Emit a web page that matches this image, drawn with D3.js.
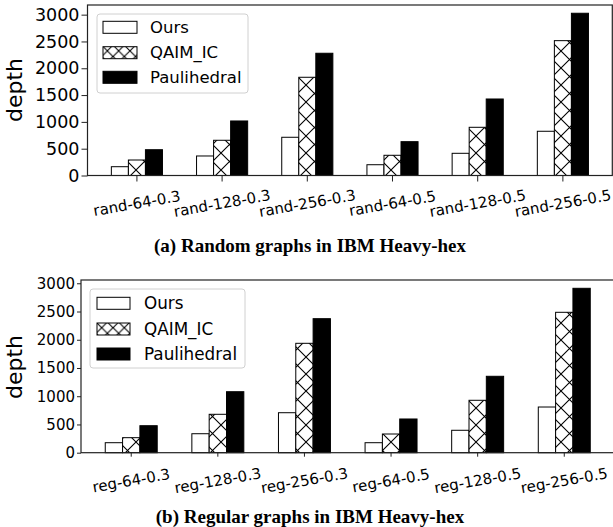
<!DOCTYPE html>
<html>
<head>
<meta charset="utf-8">
<script src="https://cdn.jsdelivr.net/npm/d3@7"></script>
<style>
  body { margin: 0; background: #fff; }
  svg { display: block; }
</style>
</head>
<body>
<div id="chart"></div>
<script>
// data
const seriesNames = ["Ours", "QAIM_IC", "Paulihedral"];
const yTicks = [0, 500, 1000, 1500, 2000, 2500, 3000];

const randCats = ["rand-64-0.3", "rand-128-0.3", "rand-256-0.3", "rand-64-0.5", "rand-128-0.5", "rand-256-0.5"];
const randOurs = [164, 364, 713, 201, 414, 825];
const randQaim = [289, 657, 1832, 377, 899, 2515];
const randPauli = [481, 1017, 2280, 631, 1427, 3026];

const regCats = ["reg-64-0.3", "reg-128-0.3", "reg-256-0.3", "reg-64-0.5", "reg-128-0.5", "reg-256-0.5"];
const regOurs = [177, 336, 708, 177, 397, 809];
const regQaim = [266, 680, 1937, 331, 928, 2486];
const regPauli = [478, 1080, 2373, 597, 1353, 2911];

const W = 613, H = 527;
const svg = d3.select("#chart").append("svg")
  .attr("width", W).attr("height", H);

const defs = svg.append("defs");
function hatch(id, size) {
  let p = defs.append("pattern")
    .attr("id", id)
    .attr("patternUnits", "userSpaceOnUse")
    .attr("width", size).attr("height", size);
  p.append("rect").attr("width", size).attr("height", size).attr("fill", "#fff");
  p.append("path")
    .attr("d", `M0,0L${size},${size}M${size},0L0,${size}`)
    .attr("stroke", "#000").attr("stroke-width", 1.1);
}
hatch("xx", 17);
hatch("xxLegend", 11.3);

const fills = ["#fff", "url(#xx)", "#000"];

function drawPanel(cfg) {
  let g = svg.append("g");

  let x = d3.scaleLinear().domain([-0.58, 5.58]).range([cfg.left, cfg.right]);
  let y = d3.scaleLinear().domain([0, cfg.ymax]).range([cfg.bottom, cfg.top]);

  let series = [cfg.ours, cfg.qaim, cfg.pauli];
  let bw = 0.2;

  series.forEach((vals, k) => {
    g.append("g")
      .selectAll("rect")
      .data(vals)
      .join("rect")
      .attr("x", (d, i) => x(i + (k - 1) * bw - bw / 2))
      .attr("width", x(bw) - x(0))
      .attr("y", d => y(d))
      .attr("height", d => y(0) - y(d))
      .attr("fill", fills[k])
      .attr("stroke", "#000")
      .attr("stroke-width", 1);
  });

  // frame
  g.append("rect")
    .attr("x", cfg.left).attr("y", cfg.top)
    .attr("width", cfg.right - cfg.left).attr("height", cfg.bottom - cfg.top)
    .attr("fill", "none").attr("stroke", "#222").attr("stroke-width", 1.2);

  // y axis
  let yAxis = d3.axisLeft(y).tickValues(yTicks).tickFormat(d3.format("d"))
    .tickSize(cfg.tickLen).tickPadding(2);
  let ya = g.append("g")
    .attr("transform", `translate(${cfg.left},0)`)
    .call(yAxis);
  ya.select(".domain").remove();
  ya.selectAll("text")
    .attr("font-family", "DejaVu Sans")
    .attr("font-size", cfg.yFont)
    .attr("fill", "#000");
  ya.selectAll("line").attr("stroke", "#222");

  // x ticks + rotated labels
  let xa = g.append("g");
  xa.selectAll("line")
    .data(cfg.cats)
    .join("line")
    .attr("x1", (d, i) => x(i)).attr("x2", (d, i) => x(i))
    .attr("y1", cfg.bottom).attr("y2", cfg.bottom + cfg.tickLen)
    .attr("stroke", "#222");
  xa.selectAll("text")
    .data(cfg.cats)
    .join("text")
    .attr("transform", (d, i) => `translate(${x(i)},${cfg.bottom + 28}) rotate(-10)`)
    .attr("text-anchor", "middle")
    .attr("dominant-baseline", "central")
    .attr("font-family", "DejaVu Sans")
    .attr("font-size", 15)
    .text(d => d);

  // y label
  g.append("text")
    .attr("transform", `translate(22,${cfg.labelY}) rotate(-90)`)
    .attr("text-anchor", "middle")
    .attr("font-family", "DejaVu Sans")
    .attr("font-size", 22)
    .text("depth");

  // legend
  let L = cfg.legend;
  g.append("rect")
    .attr("x", L.x).attr("y", L.y).attr("width", L.w).attr("height", L.h)
    .attr("rx", 3)
    .attr("fill", "#fff").attr("fill-opacity", 0.8)
    .attr("stroke", "#d0d0d0");
  let legFills = ["#fff", "url(#xxLegend)", "#000"];
  seriesNames.forEach((name, k) => {
    let cy = L.rows[k];
    g.append("rect")
      .attr("x", L.hx).attr("y", cy - 6)
      .attr("width", L.hw).attr("height", 12)
      .attr("fill", legFills[k]).attr("stroke", "#000");
    g.append("text")
      .attr("x", L.tx).attr("y", cy)
      .attr("dominant-baseline", "central")
      .attr("font-family", "DejaVu Sans")
      .attr("font-size", L.font)
      .text(name);
  });

  // caption
  svg.append("text")
    .attr("x", 310).attr("y", cfg.captionY)
    .attr("text-anchor", "middle")
    .attr("font-family", "Liberation Serif")
    .attr("font-weight", "bold")
    .attr("font-size", 19)
    .text(cfg.caption);
}

drawPanel({
  cats: randCats, ours: randOurs, qaim: randQaim, pauli: randPauli,
  left: 87.5, right: 612.3, top: 5, bottom: 175.5, ymax: 3180,
  tickLen: 6, yFont: 17.5, labelY: 90,
  legend: { x: 97, y: 14, w: 151, h: 79, hx: 103, hw: 34, tx: 150, font: 16.5, rows: [27.3, 52.7, 77.3] },
  caption: "(a) Random graphs in IBM Heavy-hex", captionY: 252
});

drawPanel({
  cats: regCats, ours: regOurs, qaim: regQaim, pauli: regPauli,
  left: 81, right: 614.5, top: 280, bottom: 452.7, ymax: 3058,
  tickLen: 4, yFont: 15, labelY: 367,
  legend: { x: 90, y: 289, w: 155, h: 79, hx: 97, hw: 33, tx: 144, font: 16.8, rows: [303.3, 329, 354] },
  caption: "(b) Regular graphs in IBM Heavy-hex", captionY: 523
});
</script>
</body>
</html>
